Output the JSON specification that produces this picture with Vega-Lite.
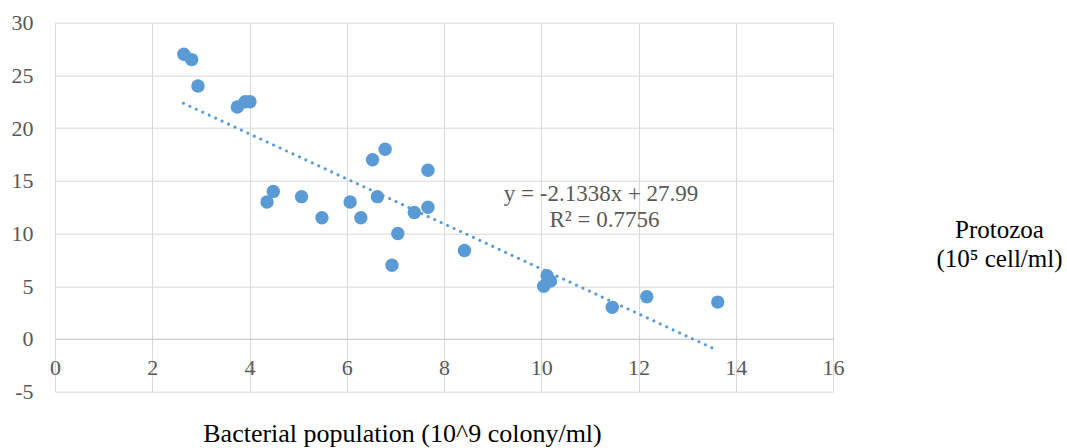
{
  "$schema": "https://vega.github.io/schema/vega-lite/v6.json",
  "width": 778,
  "height": 369,
  "autosize": "none",
  "padding": {"left": 55, "top": 22.7, "right": 234, "bottom": 56.3},
  "background": "white",
  "config": {
    "view": {"stroke": null},
    "font": "Liberation Serif",
    "axis": {"labelFont": "Liberation Serif", "titleFont": "Liberation Serif"},
    "text": {"font": "Liberation Serif"}
  },
  "datasets": {
    "points": [
      {"x": 2.65, "y": 27}, {"x": 2.81, "y": 26.5}, {"x": 2.94, "y": 24},
      {"x": 3.75, "y": 22}, {"x": 3.91, "y": 22.5}, {"x": 4.01, "y": 22.5},
      {"x": 4.36, "y": 13}, {"x": 4.49, "y": 14}, {"x": 5.07, "y": 13.5},
      {"x": 5.49, "y": 11.5}, {"x": 6.07, "y": 13}, {"x": 6.29, "y": 11.5},
      {"x": 6.53, "y": 17}, {"x": 6.79, "y": 18}, {"x": 6.63, "y": 13.5},
      {"x": 7.39, "y": 12}, {"x": 7.67, "y": 12.5}, {"x": 7.67, "y": 16},
      {"x": 7.05, "y": 10}, {"x": 6.93, "y": 7}, {"x": 8.42, "y": 8.4},
      {"x": 10.12, "y": 6}, {"x": 10.19, "y": 5.5}, {"x": 10.05, "y": 5},
      {"x": 11.46, "y": 3}, {"x": 12.17, "y": 4}, {"x": 13.63, "y": 3.5}
    ],
    "trend": [
      {"x": 2.64, "y": 22.36},
      {"x": 13.62, "y": -1.07}
    ],
    "notes": [
      {"x": 11.23, "y": 13.1, "label": "y = -2.1338x + 27.99"},
      {"x": 11.3, "y": 10.63, "label": "R² = 0.7756"}
    ]
  },
  "encoding": {
    "x": {
      "field": "x",
      "type": "quantitative",
      "scale": {"domain": [0, 16], "nice": false, "zero": false},
      "axis": {
        "values": [0, 2, 4, 6, 8, 10, 12, 14, 16],
        "labelExpr": "toString(datum.value)",
        "grid": true,
        "gridColor": "#d9d9d9",
        "gridWidth": 1,
        "domain": false,
        "ticks": false,
        "tickSize": 0,
        "labelFontSize": 22,
        "labelColor": "#595959",
        "labelFont": "Liberation Serif",
        "labelPadding": -34,
        "labelBaseline": "top",
        "labelFlush": false,
        "labelOverlap": false,
        "labelBound": false,
        "title": "Bacterial population (10^9 colony/ml)",
        "titleFont": "Liberation Serif",
        "titleFontSize": 26,
        "titleFontWeight": "normal",
        "titleColor": "#000000",
        "titleX": 347,
        "titleY": 49.4,
        "titleAlign": "center",
        "titleBaseline": "alphabetic"
      }
    },
    "y": {
      "field": "y",
      "type": "quantitative",
      "scale": {"domain": [-5, 30], "nice": false, "zero": false},
      "axis": {
        "values": [-5, 0, 5, 10, 15, 20, 25, 30],
        "labelExpr": "toString(datum.value)",
        "grid": true,
        "gridColor": {"condition": {"test": "datum.value === 0", "value": "#bfbfbf"}, "value": "#d9d9d9"},
        "gridWidth": 1,
        "domain": false,
        "ticks": false,
        "tickSize": 0,
        "labelFontSize": 22,
        "labelColor": "#595959",
        "labelFont": "Liberation Serif",
        "labelPadding": 22,
        "labelOverlap": false,
        "labelBound": false,
        "title": ["Protozoa", "(10⁵ cell/ml)"],
        "titleFont": "Liberation Serif",
        "titleFontSize": 25,
        "titleFontWeight": "normal",
        "titleColor": "#000000",
        "titleAngle": 0,
        "titleX": 944,
        "titleY": 214.3,
        "titleAlign": "center",
        "titleBaseline": "alphabetic",
        "titleLineHeight": 29
      }
    }
  },
  "layer": [
    {
      "data": {"name": "points"},
      "mark": {"type": "circle", "size": 180, "color": "#5B9BD5", "opacity": 1}
    },
    {
      "data": {"name": "trend"},
      "mark": {"type": "line", "color": "#5B9BD5", "strokeWidth": 3, "strokeDash": [0.1, 7], "strokeCap": "round"}
    },
    {
      "data": {"name": "notes"},
      "mark": {"type": "text", "font": "Liberation Serif", "fontSize": 23, "color": "#595959", "align": "center", "baseline": "alphabetic"},
      "encoding": {"text": {"field": "label", "type": "nominal"}}
    }
  ]
}
